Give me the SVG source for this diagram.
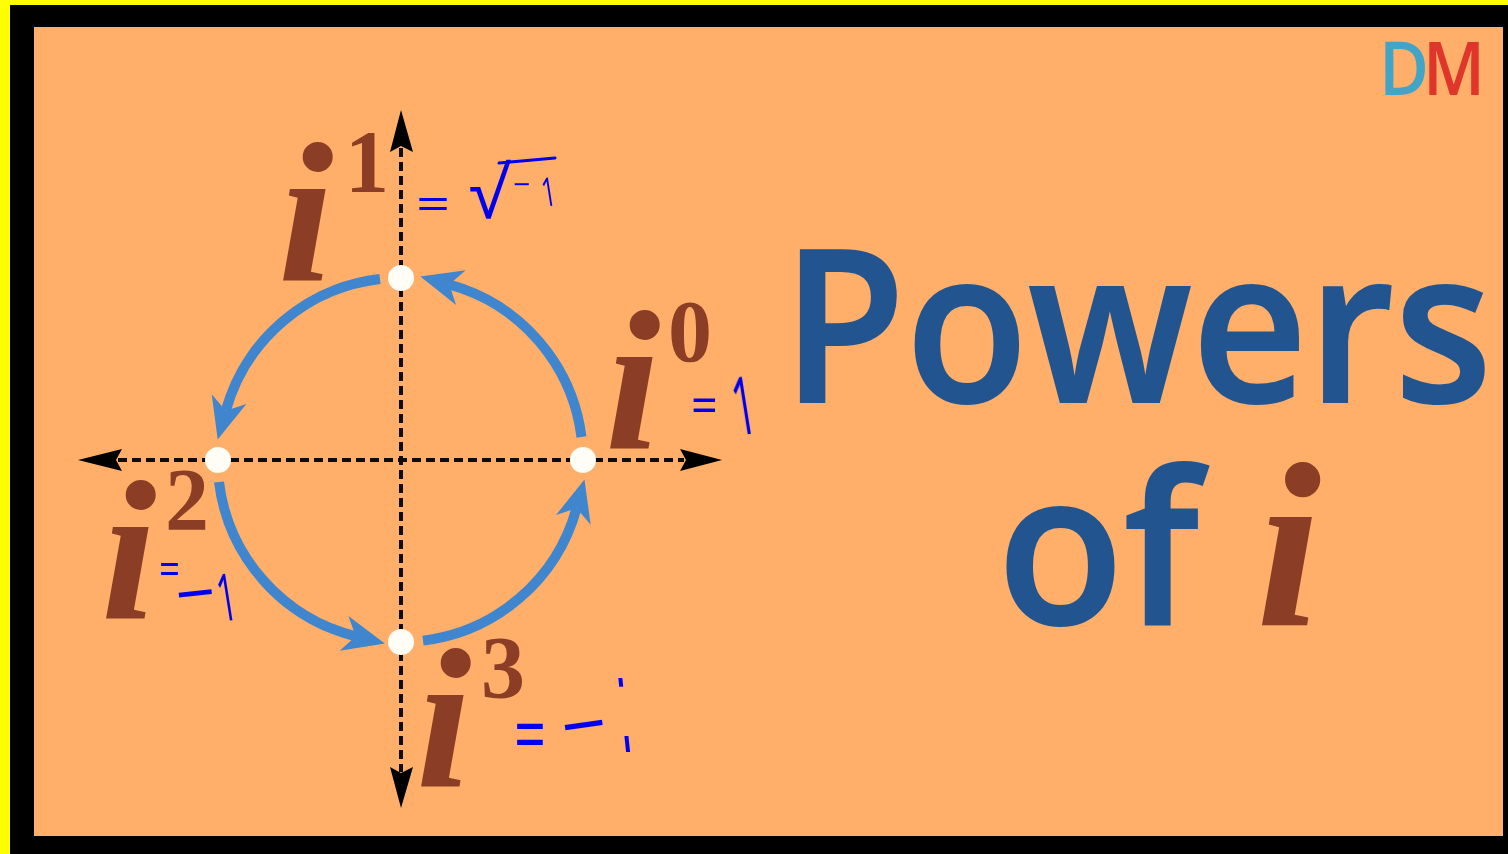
<svg xmlns="http://www.w3.org/2000/svg" width="1508" height="854" viewBox="0 0 1508 854">
<style>
.axis{stroke:#111;stroke-width:4;stroke-dasharray:9 5;fill:none}
.arc{stroke:#3f86cf;stroke-width:10;fill:none;marker-end:url(#blue)}
.dot{fill:#fffdf5}
.ivar{font-family:"Liberation Serif",serif;font-weight:700;font-style:italic;font-size:200px;fill:#8b3e25}
.exp{font-family:"Liberation Serif",serif;font-weight:700;font-size:88px;fill:#8b3e25}
.title{font-family:"Open Sans","Noto Sans",sans-serif;font-weight:600;font-size:213px;fill:#24558f;stroke:#24558f;stroke-width:2}
.ink{font-family:"Open Sans",sans-serif;font-weight:400;fill:#0000f0}
.inkline{stroke:#0000f0;stroke-width:3;fill:none;stroke-linecap:round}
.logo{font-family:"Open Sans",sans-serif;font-weight:600;font-size:74px}
</style>
<defs>
<marker id="blue" markerUnits="userSpaceOnUse" markerWidth="50" markerHeight="44" refX="12" refY="22" orient="auto"><path d="M0 4L42 22L0 40L12 22Z" fill="#3f86cf"/></marker>
<filter id="soft" x="-5%" y="-5%" width="110%" height="110%"><feGaussianBlur stdDeviation="0.6"/></filter>
<clipPath id="gap"><rect x="600" y="670" width="50" height="22"/><rect x="600" y="736" width="50" height="20"/></clipPath>
</defs>
<g id="frame">
<rect width="1508" height="854" fill="#000"/>
<rect width="1508" height="5" fill="#ffff00"/>
<rect width="10" height="854" fill="#ffff00"/>
<rect x="34" y="27" width="1469" height="809" fill="#ffaf69"/>
</g>
<g filter="url(#soft)">
<g id="connectors">
<path class="axis" d="M118 460H684"/>
<path class="axis" d="M401 148V772"/>
<path d="M78 460L122 449L116 460L122 471Z" fill="#000"/>
<path d="M722 460L680 449L686 460L680 471Z" fill="#000"/>
<path d="M401 110L390 152L401 146L413 152Z" fill="#000"/>
<path d="M401 808L390 767L401 773L413 767Z" fill="#000"/>
<path class="arc" d="M581.5 437A182 182 0 0 0 449.3 284.5"/>
<path class="arc" d="M380 279A182 182 0 0 0 225.8 410.7"/>
<path class="arc" d="M219 482A182 182 0 0 0 355.7 636.3"/>
<path class="arc" d="M423 640.6A182 182 0 0 0 576.5 508.3"/>
</g>
<g id="node-i0">
<circle class="dot" cx="583" cy="460" r="13"/>
<text class="ivar" x="605" y="448">i</text><text class="exp" x="668" y="361">0</text>
<text class="ink" font-size="52" transform="translate(691 423) scale(0.9 1)">=</text>
<text class="ink" font-size="80" transform="translate(737 436) rotate(-9) scale(0.5 1)">1</text>
</g>
<g id="node-i1">
<circle class="dot" cx="401" cy="278" r="13"/>
<text class="ivar" x="278" y="280">i</text><text class="exp" x="345" y="191">1</text>
<text class="ink" font-size="46" transform="translate(416 220) scale(1.3 1)">=</text>
<text class="ink" font-size="71" x="469" y="218">√</text>
<path class="inkline" d="M499 163L555 158"/>
<text class="ink" font-size="30" x="513" y="195">−</text>
<text class="ink" font-size="40" transform="translate(544 207) rotate(-9) scale(0.6 1)">1</text>
</g>
<g id="node-i2">
<circle class="dot" cx="218" cy="460" r="13"/>
<text class="ivar" x="101" y="618">i</text><text class="exp" x="165" y="529">2</text>
<text class="ink" font-size="46" transform="translate(159 585) scale(0.8 1)">=</text>
<text class="ink" font-size="70" transform="translate(178 620) rotate(-6)">−</text>
<text class="ink" font-size="66" transform="translate(221 622) rotate(-9) scale(0.5 1)">1</text>
</g>
<g id="node-i3">
<circle class="dot" cx="401" cy="642" r="13"/>
<text class="ivar" x="416" y="786">i</text><text class="exp" x="481" y="697">3</text>
<text class="ink" font-size="80" transform="translate(514 763) scale(0.7 1)">=</text>
<text class="ink" font-size="80" transform="translate(565 756) rotate(-8)">−</text>
<g clip-path="url(#gap)"><text class="ink" style="font-family:'Liberation Sans',sans-serif" font-size="102" transform="translate(623 752) skewX(6) scale(0.45 1)">i</text></g>
</g>
<g id="title">
<text class="title" x="782" y="402" textLength="710" lengthAdjust="spacingAndGlyphs">Powers</text>
<text class="title" x="997" y="624" textLength="202" lengthAdjust="spacingAndGlyphs">of</text>
<text class="ivar" x="1256" y="625" style="font-size:235px">i</text>
</g>
<g id="logo">
<text class="logo" x="1379" y="95" fill="#42a5c8" textLength="50" lengthAdjust="spacingAndGlyphs">D</text>
<text class="logo" x="1423" y="95" fill="#e0352b" textLength="62" lengthAdjust="spacingAndGlyphs">M</text>
</g>
</g>
</svg>
